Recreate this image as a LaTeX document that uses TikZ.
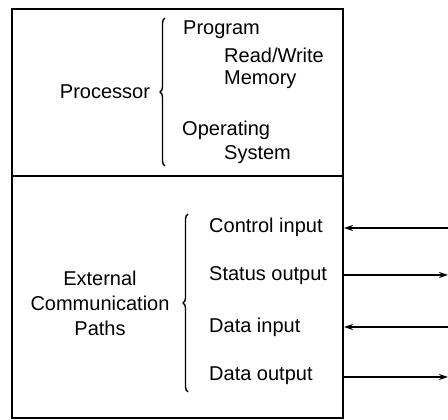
\documentclass[tikz,border=0pt]{standalone}
\usepackage{fontspec}
\setmainfont{Liberation Sans}
\usetikzlibrary{arrows.meta,decorations.pathreplacing}
\begin{document}
\begin{tikzpicture}[x=1pt,y=1pt,
  every node/.style={font=\fontsize{20}{25}\selectfont, inner sep=0pt},
  lbl/.style={anchor=west},
  frame/.style={line width=2pt},
  brc/.style={line width=1.4pt, decorate, decoration={brace, amplitude=5pt, aspect=0.5}},
  sig/.style={line width=1.6pt},
  tip/.style={-{Stealth[length=9pt,width=6pt]}}]
\useasboundingbox (0,0) rectangle (448,420);
\draw[frame] (12,2) rectangle (343,411);
\draw[frame] (12,244) -- (343,244);
% upper part
\node (proc) at (105,328) {Processor};
\draw[brc] (165,254) -- (165,402);
\node[lbl] (prog) at (183,390) {Program};
\node[lbl] (rw) at (224,365) {Read/Write};
\node[lbl] (mem) at (224,340) {Memory};
\node[lbl] (op) at (182,290) {Operating};
\node[lbl] (sys) at (224,265) {System};
% lower part
\node[align=center] (ext) at (100,117) {External\\Communication\\Paths};
\draw[brc] (188,28) -- (188,206);
\node[lbl] (ci) at (209,193) {Control input};
\node[lbl] (so) at (209,144) {Status output};
\node[lbl] (di) at (209,93) {Data input};
\node[lbl] (do) at (209,44) {Data output};
% connectors
\coordinate (ciA) at (344,192); \coordinate (ciB) at (448,192);
\coordinate (soA) at (344,145); \coordinate (soB) at (448,145);
\coordinate (diA) at (344,93);  \coordinate (diB) at (448,93);
\coordinate (doA) at (344,43);  \coordinate (doB) at (448,43);
\draw[sig,tip] (ciB) -- (ciA);
\draw[sig,tip] (soA) -- (soB);
\draw[sig,tip] (diB) -- (diA);
\draw[sig,tip] (doA) -- (doB);
\end{tikzpicture}
\end{document}
